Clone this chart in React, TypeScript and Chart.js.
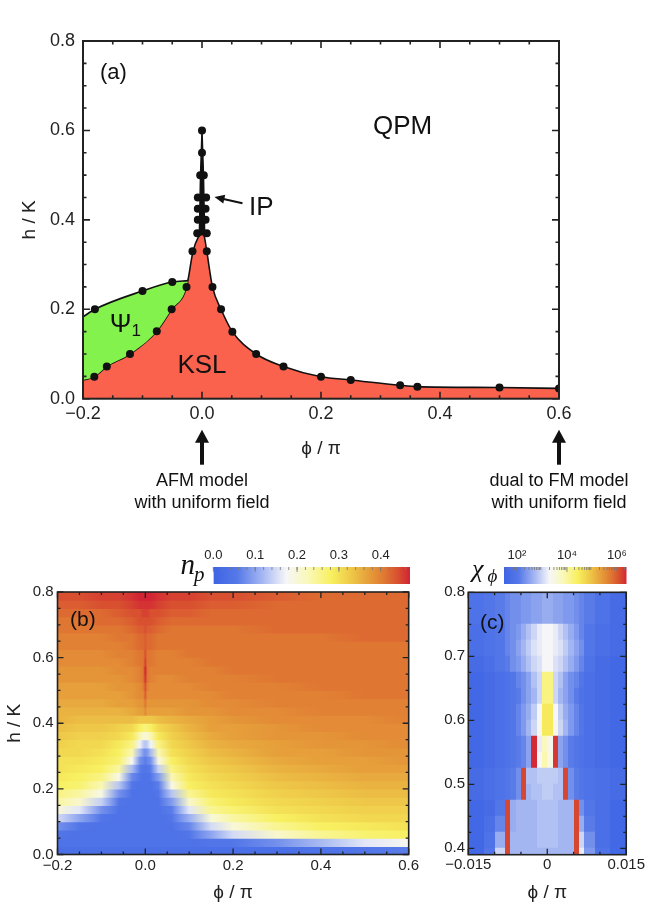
import React, { useEffect, useRef } from 'react';
import { Chart, registerables } from 'chart.js';

Chart.register(...registerables);

const SANS = '"Liberation Sans", Arial, Helvetica, sans-serif';
const SERIF = '"Liberation Serif", "DejaVu Serif", "Times New Roman", serif';

// ---------------- Panel (a): phase diagram ----------------
const PHASE_X_TICKS = [-0.2, 0, 0.2, 0.4, 0.6];
const PHASE_Y_TICKS = [0, 0.2, 0.4, 0.6, 0.8];

// upper boundary of the KSL phase
const KSL_PHI = [-0.2, -0.181, -0.16, -0.121, -0.076, -0.051, -0.026, -0.015, -0.006, 0, 0.004, 0.008, 0.0176, 0.032, 0.051, 0.091, 0.137, 0.2, 0.25, 0.333, 0.362, 0.5, 0.6];
const KSL_H = [0.042, 0.049, 0.072, 0.1, 0.151, 0.2, 0.25, 0.33, 0.362, 0.37, 0.362, 0.33, 0.25, 0.2, 0.15, 0.1, 0.072, 0.049, 0.042, 0.03, 0.027, 0.025, 0.023];

// upper boundary of the Psi_1 phase
const PSI1_PHI = [-0.2, -0.18, -0.1, -0.05, -0.0235];
const PSI1_H = [0.183, 0.2, 0.241, 0.261, 0.264];

// intermediate phase (IP) sliver
const IP_PHI = [-0.0045, -0.0025, 0, 0.0025, 0.0045];
const IP_H = [0.365, 0.5, 0.6, 0.5, 0.365];

// computed transition points
const DOT_PHI = [-0.181, -0.16, -0.121, -0.076, -0.051, -0.026, -0.016,
  -0.18, -0.1, -0.05,
  -0.008, 0.008, -0.007, 0.006, -0.007, 0.006, -0.007, 0.007, -0.003, 0.003, 0, 0,
  0.008, 0.0176, 0.032, 0.051, 0.091, 0.137, 0.2, 0.25, 0.333, 0.362, 0.5, 0.6];
const DOT_H = [0.049, 0.072, 0.1, 0.151, 0.2, 0.25, 0.33,
  0.2, 0.241, 0.261,
  0.37, 0.37, 0.4, 0.4, 0.425, 0.425, 0.45, 0.45, 0.5, 0.5, 0.55, 0.6,
  0.33, 0.25, 0.2, 0.15, 0.1, 0.072, 0.049, 0.042, 0.03, 0.027, 0.025, 0.023];

const MODEL_PHI = [0, 0.6];
const MODEL_TEXT = [['AFM model', 'with uniform field'], ['dual to FM model', 'with uniform field']];

// ---------------- Panel (b): n_p heat map ----------------
const NP_TICKS = [0, 0.1, 0.2, 0.3, 0.4];
const NP_RANGE = [0, 0.47];
const NP_X_TICKS = [-0.2, 0, 0.2, 0.4, 0.6];
const NP_Y_TICKS = [0, 0.2, 0.4, 0.6, 0.8];
const NP_PHI = [-0.2, -0.15, -0.1, -0.06, -0.03, -0.012, -0.005, 0, 0.005, 0.012, 0.03, 0.06, 0.1, 0.15, 0.2, 0.3, 0.4, 0.5, 0.6];
const NP_H = [0.0125, 0.0375, 0.0625, 0.0875, 0.1125, 0.1375, 0.1625, 0.1875, 0.2125, 0.2375, 0.2625, 0.2875, 0.3125, 0.3375, 0.3625, 0.3875,
  0.4125, 0.4375, 0.4625, 0.4875, 0.5125, 0.5375, 0.5625, 0.5875, 0.6125, 0.6375, 0.6625, 0.6875, 0.7125, 0.7375, 0.7625, 0.7875];
const NP_ROWS = [
  [0.03, 0.03, 0.03, 0.03, 0.03, 0.03, 0.03, 0.03, 0.03, 0.03, 0.03, 0.03, 0.03, 0.03, 0.03, 0.03, 0.04, 0.05, 0.06],
  [0.04, 0.04, 0.04, 0.04, 0.04, 0.04, 0.04, 0.04, 0.04, 0.04, 0.04, 0.04, 0.04, 0.05, 0.05, 0.08, 0.12, 0.16, 0.18],
  [0.05, 0.04, 0.04, 0.04, 0.04, 0.04, 0.04, 0.04, 0.04, 0.04, 0.04, 0.04, 0.05, 0.1, 0.15, 0.21, 0.25, 0.27, 0.28],
  [0.08, 0.05, 0.04, 0.04, 0.04, 0.04, 0.04, 0.04, 0.04, 0.04, 0.04, 0.04, 0.07, 0.15, 0.2, 0.25, 0.28, 0.29, 0.3],
  [0.15, 0.1, 0.05, 0.04, 0.04, 0.04, 0.04, 0.04, 0.04, 0.04, 0.04, 0.05, 0.11, 0.2, 0.24, 0.28, 0.3, 0.31, 0.31],
  [0.2, 0.16, 0.08, 0.04, 0.04, 0.04, 0.04, 0.04, 0.04, 0.04, 0.04, 0.06, 0.16, 0.25, 0.27, 0.3, 0.31, 0.32, 0.32],
  [0.24, 0.21, 0.14, 0.05, 0.04, 0.04, 0.04, 0.04, 0.04, 0.04, 0.04, 0.09, 0.21, 0.27, 0.29, 0.31, 0.32, 0.33, 0.33],
  [0.26, 0.24, 0.19, 0.08, 0.04, 0.04, 0.04, 0.04, 0.04, 0.04, 0.05, 0.13, 0.25, 0.29, 0.3, 0.32, 0.33, 0.34, 0.34],
  [0.28, 0.27, 0.23, 0.13, 0.05, 0.04, 0.04, 0.04, 0.04, 0.04, 0.06, 0.19, 0.28, 0.3, 0.31, 0.33, 0.34, 0.35, 0.35],
  [0.29, 0.28, 0.26, 0.19, 0.07, 0.05, 0.04, 0.04, 0.04, 0.05, 0.09, 0.23, 0.29, 0.31, 0.32, 0.34, 0.35, 0.36, 0.36],
  [0.3, 0.29, 0.28, 0.24, 0.12, 0.06, 0.05, 0.05, 0.05, 0.06, 0.14, 0.26, 0.3, 0.32, 0.33, 0.35, 0.36, 0.37, 0.37],
  [0.3, 0.3, 0.29, 0.27, 0.18, 0.08, 0.07, 0.06, 0.07, 0.08, 0.19, 0.28, 0.31, 0.33, 0.34, 0.36, 0.37, 0.37, 0.38],
  [0.31, 0.31, 0.3, 0.28, 0.23, 0.12, 0.09, 0.08, 0.09, 0.12, 0.23, 0.3, 0.32, 0.34, 0.35, 0.37, 0.37, 0.38, 0.38],
  [0.32, 0.31, 0.31, 0.29, 0.26, 0.17, 0.14, 0.13, 0.14, 0.17, 0.26, 0.31, 0.33, 0.35, 0.36, 0.37, 0.38, 0.38, 0.39],
  [0.33, 0.32, 0.32, 0.31, 0.29, 0.23, 0.21, 0.2, 0.21, 0.23, 0.29, 0.32, 0.34, 0.36, 0.37, 0.38, 0.38, 0.39, 0.39],
  [0.34, 0.33, 0.33, 0.32, 0.31, 0.28, 0.27, 0.26, 0.27, 0.28, 0.31, 0.33, 0.35, 0.37, 0.37, 0.38, 0.39, 0.39, 0.39],
  [0.35, 0.34, 0.34, 0.34, 0.34, 0.33, 0.33, 0.33, 0.33, 0.33, 0.34, 0.35, 0.36, 0.37, 0.38, 0.39, 0.39, 0.39, 0.4],
  [0.35, 0.35, 0.35, 0.35, 0.36, 0.37, 0.37, 0.39, 0.37, 0.37, 0.37, 0.37, 0.38, 0.38, 0.39, 0.39, 0.4, 0.4, 0.4],
  [0.36, 0.36, 0.36, 0.37, 0.37, 0.38, 0.38, 0.41, 0.38, 0.38, 0.38, 0.38, 0.38, 0.39, 0.39, 0.4, 0.4, 0.4, 0.4],
  [0.37, 0.37, 0.37, 0.37, 0.38, 0.39, 0.39, 0.43, 0.39, 0.39, 0.39, 0.39, 0.39, 0.39, 0.4, 0.4, 0.4, 0.41, 0.41],
  [0.37, 0.37, 0.37, 0.38, 0.38, 0.39, 0.4, 0.44, 0.4, 0.39, 0.39, 0.39, 0.39, 0.4, 0.4, 0.4, 0.41, 0.41, 0.41],
  [0.38, 0.38, 0.38, 0.38, 0.39, 0.4, 0.41, 0.46, 0.41, 0.4, 0.39, 0.39, 0.4, 0.4, 0.4, 0.41, 0.41, 0.41, 0.41],
  [0.38, 0.38, 0.38, 0.39, 0.39, 0.4, 0.41, 0.47, 0.41, 0.4, 0.4, 0.4, 0.4, 0.4, 0.41, 0.41, 0.41, 0.41, 0.41],
  [0.39, 0.39, 0.39, 0.39, 0.4, 0.41, 0.41, 0.45, 0.41, 0.41, 0.4, 0.4, 0.4, 0.41, 0.41, 0.41, 0.41, 0.41, 0.41],
  [0.39, 0.39, 0.39, 0.4, 0.4, 0.41, 0.41, 0.44, 0.41, 0.41, 0.4, 0.4, 0.41, 0.41, 0.41, 0.41, 0.41, 0.41, 0.41],
  [0.4, 0.4, 0.4, 0.4, 0.41, 0.42, 0.42, 0.43, 0.42, 0.42, 0.41, 0.41, 0.41, 0.41, 0.41, 0.41, 0.41, 0.41, 0.41],
  [0.4, 0.4, 0.4, 0.41, 0.41, 0.42, 0.42, 0.43, 0.42, 0.42, 0.41, 0.41, 0.41, 0.41, 0.41, 0.41, 0.41, 0.42, 0.42],
  [0.41, 0.41, 0.41, 0.41, 0.42, 0.43, 0.43, 0.44, 0.43, 0.43, 0.42, 0.41, 0.41, 0.41, 0.41, 0.42, 0.42, 0.42, 0.42],
  [0.41, 0.41, 0.42, 0.42, 0.43, 0.44, 0.44, 0.44, 0.44, 0.44, 0.43, 0.42, 0.42, 0.42, 0.42, 0.42, 0.42, 0.42, 0.42],
  [0.42, 0.42, 0.42, 0.43, 0.44, 0.44, 0.45, 0.45, 0.45, 0.44, 0.44, 0.43, 0.43, 0.42, 0.42, 0.42, 0.42, 0.42, 0.42],
  [0.43, 0.43, 0.44, 0.44, 0.45, 0.46, 0.46, 0.46, 0.46, 0.46, 0.45, 0.44, 0.44, 0.43, 0.43, 0.42, 0.42, 0.42, 0.42],
  [0.44, 0.44, 0.45, 0.45, 0.46, 0.47, 0.47, 0.47, 0.47, 0.47, 0.46, 0.45, 0.45, 0.44, 0.44, 0.43, 0.42, 0.42, 0.42],
];

// ---------------- Panel (c): chi_phi heat map (log10) ----------------
const CHI_TICKS = [2, 4, 6];
const CHI_RANGE = [1.48, 6.39];
const CHI_X_TICKS = [-0.015, 0, 0.015];
const CHI_Y_TICKS = [0.4, 0.5, 0.6, 0.7, 0.8];
const CHI_EDGES = [-0.015, -0.012, -0.01, -0.008, -0.007, -0.006, -0.005, -0.004, -0.003, -0.002, -0.001, 0, 0.001, 0.002, 0.003, 0.004, 0.005, 0.006, 0.007, 0.009, 0.012, 0.015];
const CHI_H = [0.7875, 0.7625, 0.7375, 0.7125, 0.6875, 0.6625, 0.6375, 0.6125, 0.5875, 0.5625, 0.5375, 0.5125, 0.4875, 0.4625, 0.4375, 0.4125, 0.3875];
const CHI_LOG10 = [
  [1.9, 2.0, 2.1, 2.2, 2.3, 2.3, 2.4, 2.4, 2.5, 2.5, 2.6, 2.6, 2.5, 2.5, 2.4, 2.4, 2.3, 2.2, 2.1, 1.9, 1.7],
  [1.9, 2.0, 2.1, 2.2, 2.3, 2.3, 2.4, 2.4, 2.5, 2.5, 2.6, 2.6, 2.5, 2.5, 2.4, 2.4, 2.3, 2.2, 2.1, 1.9, 1.7],
  [1.8, 1.9, 2.0, 2.2, 2.3, 2.4, 2.6, 2.8, 3.0, 3.2, 3.3, 3.3, 3.2, 3.0, 2.8, 2.6, 2.4, 2.2, 2.0, 1.8, 1.7],
  [1.8, 1.9, 2.0, 2.2, 2.3, 2.5, 2.7, 2.9, 3.1, 3.2, 3.3, 3.3, 3.2, 3.1, 2.9, 2.7, 2.5, 2.3, 2.0, 1.8, 1.7],
  [1.7, 1.8, 2.0, 2.1, 2.3, 2.4, 2.6, 2.8, 3.0, 3.1, 3.3, 3.3, 3.1, 3.0, 2.8, 2.6, 2.4, 2.2, 1.9, 1.7, 1.6],
  [1.6, 1.7, 1.8, 1.9, 2.0, 2.2, 2.3, 2.5, 2.8, 3.0, 4.2, 4.2, 3.0, 2.8, 2.5, 2.3, 2.2, 2.0, 1.8, 1.7, 1.6],
  [1.6, 1.7, 1.8, 1.9, 2.0, 2.1, 2.3, 2.5, 2.7, 3.0, 4.2, 4.2, 3.0, 2.7, 2.5, 2.3, 2.1, 1.9, 1.8, 1.7, 1.6],
  [1.6, 1.7, 1.8, 1.9, 2.0, 2.2, 2.4, 2.6, 2.9, 3.3, 4.5, 4.5, 3.3, 2.9, 2.6, 2.4, 2.2, 2.0, 1.8, 1.7, 1.6],
  [1.6, 1.7, 1.8, 1.9, 2.0, 2.2, 2.4, 2.7, 3.0, 3.4, 4.5, 4.5, 3.4, 3.0, 2.7, 2.4, 2.2, 2.0, 1.8, 1.7, 1.6],
  [1.6, 1.7, 1.8, 1.9, 2.0, 2.1, 2.2, 2.5, 6.35, 3.2, 3.8, 3.4, 6.25, 2.5, 2.3, 2.1, 2.0, 1.9, 1.8, 1.7, 1.6],
  [1.6, 1.7, 1.8, 1.9, 2.0, 2.1, 2.2, 2.5, 6.35, 3.3, 3.9, 3.5, 6.25, 2.5, 2.3, 2.1, 2.0, 1.9, 1.8, 1.7, 1.6],
  [1.7, 1.8, 1.9, 2.0, 2.1, 2.3, 6.15, 2.8, 2.8, 2.9, 2.9, 2.9, 2.9, 2.8, 6.15, 2.3, 2.1, 2.0, 1.9, 1.8, 1.7],
  [1.7, 1.8, 1.9, 2.0, 2.1, 2.3, 6.15, 2.7, 2.8, 2.8, 2.9, 2.9, 2.8, 2.8, 6.15, 2.3, 2.1, 2.0, 1.9, 1.8, 1.7],
  [1.6, 1.7, 2.0, 6.15, 2.6, 2.7, 2.7, 2.7, 2.7, 2.8, 2.8, 2.8, 2.8, 2.7, 2.7, 2.7, 6.15, 2.3, 2.0, 1.8, 1.6],
  [1.6, 1.8, 2.2, 6.15, 2.6, 2.7, 2.7, 2.7, 2.7, 2.8, 2.8, 2.8, 2.8, 2.7, 2.7, 2.7, 6.15, 2.6, 2.1, 1.8, 1.6],
  [1.6, 1.9, 2.6, 6.15, 2.7, 2.7, 2.7, 2.7, 2.7, 2.8, 2.8, 2.8, 2.8, 2.7, 2.7, 2.7, 6.15, 3.0, 2.3, 1.8, 1.6],
  [1.6, 2.0, 3.0, 6.15, 2.7, 2.7, 2.7, 2.7, 2.7, 2.7, 2.7, 2.7, 2.7, 2.7, 2.7, 2.7, 6.15, 3.2, 2.4, 1.9, 1.6],
];

// ---------------- colour map (style) ----------------
const CMAP: number[][] = [
  [0.0, 62, 100, 228],
  [0.12, 85, 120, 232],
  [0.25, 165, 183, 242],
  [0.37, 246, 246, 248],
  [0.48, 250, 248, 185],
  [0.6, 248, 240, 95],
  [0.7, 238, 200, 72],
  [0.79, 230, 158, 58],
  [0.87, 223, 120, 50],
  [0.94, 216, 78, 48],
  [1.0, 210, 35, 52],
];

function cmap(t: number): string {
  const v = Math.max(0, Math.min(1, t));
  for (let i = 1; i < CMAP.length; i++) {
    if (v <= CMAP[i][0]) {
      const a = CMAP[i - 1], b = CMAP[i];
      const f = (v - a[0]) / (b[0] - a[0]);
      const r = Math.round(a[1] + f * (b[1] - a[1]));
      const g = Math.round(a[2] + f * (b[2] - a[2]));
      const bl = Math.round(a[3] + f * (b[3] - a[3]));
      return `rgb(${r},${g},${bl})`;
    }
  }
  const l = CMAP[CMAP.length - 1];
  return `rgb(${l[1]},${l[2]},${l[3]})`;
}

function stepsBetween(min: number, max: number, step: number): number[] {
  const out: number[] = [];
  const k0 = Math.ceil(min / step - 1e-6);
  const k1 = Math.floor(max / step + 1e-6);
  for (let k = k0; k <= k1; k++) out.push(k * step);
  return out;
}

// frame + inward ticks on all four sides
const frameTicks = {
  id: 'frameTicks',
  afterDatasetsDraw(chart: any, _args: any, o: any) {
    if (!o || !o.on) return;
    const { ctx, chartArea: a } = chart;
    const xs = chart.scales.x, ys = chart.scales.y;
    ctx.save();
    ctx.strokeStyle = o.color;
    ctx.lineWidth = o.tickWidth;
    ctx.beginPath();
    const xt = (v: number, len: number) => {
      const p = xs.getPixelForValue(v);
      ctx.moveTo(p, a.bottom); ctx.lineTo(p, a.bottom - len);
      ctx.moveTo(p, a.top); ctx.lineTo(p, a.top + len);
    };
    const yt = (v: number, len: number) => {
      const p = ys.getPixelForValue(v);
      ctx.moveTo(a.left, p); ctx.lineTo(a.left + len, p);
      ctx.moveTo(a.right, p); ctx.lineTo(a.right - len, p);
    };
    stepsBetween(xs.min, xs.max, o.xMinor).forEach((v) => xt(v, o.minorLen));
    stepsBetween(ys.min, ys.max, o.yMinor).forEach((v) => yt(v, o.minorLen));
    xs.ticks.forEach((t: any) => xt(t.value, o.majorLen));
    ys.ticks.forEach((t: any) => yt(t.value, o.majorLen));
    ctx.stroke();
    ctx.lineWidth = o.frameWidth;
    ctx.strokeRect(a.left, a.top, a.right - a.left, a.bottom - a.top);
    ctx.restore();
  },
};

// panel annotations
const panelText = {
  id: 'panelText',
  afterDraw(chart: any, _args: any, o: any) {
    if (!o || !o.items) return;
    const { ctx } = chart;
    const xs = chart.scales.x, ys = chart.scales.y;
    ctx.save();
    ctx.fillStyle = '#111';
    ctx.strokeStyle = '#111';
    o.items.forEach((it: any) => {
      ctx.font = it.font;
      ctx.textAlign = it.align || 'center';
      ctx.textBaseline = it.baseline || 'middle';
      let x: number, y: number;
      if (it.area) {
        x = chart.chartArea[it.area[0]] + it.dx;
        y = chart.chartArea[it.area[1]] + it.dy;
      } else {
        x = xs.getPixelForValue(it.phi) + (it.dx || 0);
        y = ys.getPixelForValue(it.h) + (it.dy || 0);
      }
      ctx.fillText(it.text, x, y);
    });
    if (o.arrow) {
      const ar = o.arrow;
      const x0 = xs.getPixelForValue(ar.from[0]), y0 = ys.getPixelForValue(ar.from[1]);
      const x1 = xs.getPixelForValue(ar.to[0]), y1 = ys.getPixelForValue(ar.to[1]);
      const ang = Math.atan2(y1 - y0, x1 - x0);
      const hl = 10, hw = 4.5;
      ctx.lineWidth = 2;
      ctx.beginPath();
      ctx.moveTo(x0, y0);
      ctx.lineTo(x1 - Math.cos(ang) * hl * 0.8, y1 - Math.sin(ang) * hl * 0.8);
      ctx.stroke();
      ctx.beginPath();
      ctx.moveTo(x1, y1);
      ctx.lineTo(x1 - Math.cos(ang) * hl - Math.sin(ang) * hw, y1 - Math.sin(ang) * hl + Math.cos(ang) * hw);
      ctx.lineTo(x1 - Math.cos(ang) * hl + Math.sin(ang) * hw, y1 - Math.sin(ang) * hl - Math.cos(ang) * hw);
      ctx.closePath();
      ctx.fill();
    }
    if (o.models) {
      const b = chart.chartArea.bottom;
      MODEL_PHI.forEach((p, i) => {
        const x = xs.getPixelForValue(p);
        ctx.beginPath();
        ctx.moveTo(x, b + 31);
        ctx.lineTo(x - 7, b + 44);
        ctx.lineTo(x + 7, b + 44);
        ctx.closePath();
        ctx.fill();
        ctx.fillRect(x - 2, b + 42, 4, 24);
        ctx.font = `18px ${SANS}`;
        ctx.textAlign = 'center';
        ctx.textBaseline = 'middle';
        MODEL_TEXT[i].forEach((line, k) => ctx.fillText(line, x, b + 82 + k * 22));
      });
    }
    if (o.psi) {
      const x = xs.getPixelForValue(o.psi[0]), y = ys.getPixelForValue(o.psi[1]);
      ctx.font = `26px ${SANS}`;
      ctx.textAlign = 'left';
      ctx.textBaseline = 'alphabetic';
      ctx.fillText('Ψ', x, y + 9);
      const w = ctx.measureText('Ψ').width;
      ctx.font = `17px ${SANS}`;
      ctx.fillText('1', x + w, y + 13);
    }
    ctx.restore();
  },
};

// colourbar symbol labels
const cbLabel = {
  id: 'cbLabel',
  afterDraw(chart: any, _args: any, o: any) {
    if (!o || !o.main) return;
    const { ctx, chartArea: a } = chart;
    ctx.save();
    ctx.fillStyle = '#111';
    ctx.textAlign = 'left';
    ctx.textBaseline = 'alphabetic';
    ctx.font = `italic ${o.mainSize}px ${SERIF}`;
    ctx.fillText(o.main, a.left + o.mainDx, a.bottom + o.mainDy);
    ctx.font = `italic ${o.subSize}px ${SERIF}`;
    ctx.fillText(o.sub, a.left + o.subDx, a.bottom + o.subDy);
    // light tick marks along the top edge
    const xs = chart.scales.x;
    ctx.strokeStyle = 'rgba(120,120,120,0.8)';
    ctx.lineWidth = 1;
    ctx.beginPath();
    o.minor.forEach((v: number) => {
      const p = xs.getPixelForValue(v);
      ctx.moveTo(p, a.top); ctx.lineTo(p, a.top + 3);
    });
    xs.ticks.forEach((t: any) => {
      const p = xs.getPixelForValue(t.value);
      ctx.moveTo(p, a.top); ctx.lineTo(p, a.top + 5);
    });
    ctx.stroke();
    ctx.restore();
  },
};

const fmtSigned = (d: number) => (v: number) => (v < -1e-9 ? '−' : '') + Math.abs(v).toFixed(d);

function baseOptions(padding: any) {
  return {
    responsive: false,
    animation: false,
    devicePixelRatio: 1,
    events: [],
    layout: { padding },
    plugins: { legend: { display: false }, tooltip: { enabled: false } },
  } as any;
}

function axis(opts: any) {
  const { min, max, ticks, fmt, size, fontSize, pad, title, titleSize, titlePad, position } = opts;
  return {
    type: 'linear',
    position,
    min,
    max,
    offset: false,
    grid: { display: false, drawTicks: false },
    border: { display: false },
    afterBuildTicks: (s: any) => { s.ticks = ticks.map((v: number) => ({ value: v })); },
    afterFit: (s: any) => {
      if (position === 'left') s.width = size; else s.height = size;
    },
    ticks: {
      autoSkip: false,
      maxRotation: 0,
      minRotation: 0,
      padding: pad,
      color: '#222',
      font: { size: fontSize, family: SANS },
      callback: fmt,
    },
    title: title
      ? { display: true, text: title, color: '#222', font: { size: titleSize, family: SANS }, padding: titlePad }
      : { display: false },
  } as any;
}

function rowGradient(chart: any, phis: number[], vals: number[], toT: (v: number) => number, hard: boolean) {
  const xs = chart.scales.x;
  const ctx = chart.ctx;
  const x0 = xs.getPixelForValue(phis[0]);
  const x1 = xs.getPixelForValue(phis[phis.length - 1]);
  const g = ctx.createLinearGradient(x0, 0, x1, 0);
  const pos = (p: number) => Math.max(0, Math.min(1, (xs.getPixelForValue(p) - x0) / (x1 - x0)));
  if (hard) {
    vals.forEach((v, j) => {
      const c = cmap(toT(v));
      g.addColorStop(pos(phis[j]), c);
      g.addColorStop(pos(phis[j + 1]), c);
    });
  } else {
    phis.forEach((p, j) => g.addColorStop(pos(p), cmap(toT(vals[j]))));
  }
  return g;
}

export default function App() {
  const refA = useRef<HTMLCanvasElement>(null);
  const refB = useRef<HTMLCanvasElement>(null);
  const refC = useRef<HTMLCanvasElement>(null);
  const refCbB = useRef<HTMLCanvasElement>(null);
  const refCbC = useRef<HTMLCanvasElement>(null);

  useEffect(() => {
    Chart.defaults.font.family = SANS;
    const charts: Chart[] = [];
    const KSL_COLOR = 'rgb(250,98,78)';
    const PSI_COLOR = 'rgb(132,242,76)';

    // ---------- (a) ----------
    charts.push(new Chart(refA.current as HTMLCanvasElement, {
      type: 'line',
      data: {
        datasets: [
          {
            data: KSL_PHI.map((p, i) => ({ x: p, y: KSL_H[i] })),
            fill: 'origin', backgroundColor: KSL_COLOR, borderColor: '#111', borderWidth: 1.6,
            pointRadius: 0, cubicInterpolationMode: 'monotone', order: 5,
          },
          {
            data: PSI1_PHI.map((p, i) => ({ x: p, y: PSI1_H[i] })),
            fill: '-1', backgroundColor: PSI_COLOR, borderColor: '#111', borderWidth: 1.6,
            pointRadius: 0, cubicInterpolationMode: 'monotone', order: 4,
          },
          {
            data: IP_PHI.map((p, i) => ({ x: p, y: IP_H[i] })),
            fill: 'shape', backgroundColor: '#111', borderColor: '#111', borderWidth: 1.5,
            pointRadius: 0, tension: 0, order: 3,
          },
          {
            data: DOT_PHI.map((p, i) => ({ x: p, y: DOT_H[i] })),
            showLine: false, pointRadius: 4, pointBackgroundColor: '#111', pointBorderWidth: 0,
            backgroundColor: '#111', borderColor: '#111', fill: false, order: 1, clip: 0,
          },
        ],
      } as any,
      options: {
        ...baseOptions({ left: 0, top: 41, right: 87, bottom: 443.6 }),
        scales: {
          x: axis({ position: 'bottom', min: -0.2, max: 0.6, ticks: PHASE_X_TICKS, fmt: fmtSigned(1), size: 61.7, fontSize: 18, pad: 5, title: 'ϕ / π', titleSize: 19, titlePad: { top: 0, bottom: 0 } }),
          y: axis({ position: 'left', min: 0, max: 0.8, ticks: PHASE_Y_TICKS, fmt: fmtSigned(1), size: 83, fontSize: 18, pad: 8, title: 'h / K', titleSize: 19, titlePad: { top: 18.6, bottom: 0 } }),
        },
        plugins: {
          legend: { display: false }, tooltip: { enabled: false },
          frameTicks: { on: true, color: '#222', tickWidth: 1.6, frameWidth: 2, minorLen: 3.5, majorLen: 7, xMinor: 0.05, yMinor: 0.05 },
          panelText: {
            items: [
              { text: '(a)', font: `22px ${SANS}`, align: 'left', area: ['left', 'top'], dx: 17, dy: 32 },
              { text: 'QPM', font: `26px ${SANS}`, phi: 0.337, h: 0.607 },
              { text: 'KSL', font: `26px ${SANS}`, phi: 0.0, h: 0.073 },
              { text: 'IP', font: `26px ${SANS}`, align: 'left', phi: 0.079, h: 0.426 },
            ],
            arrow: { from: [0.068, 0.437], to: [0.021, 0.451] },
            models: true,
            psi: [-0.155, 0.169],
          },
        },
      } as any,
      plugins: [frameTicks, panelText],
    }));

    // ---------- (b) ----------
    charts.push(new Chart(refB.current as HTMLCanvasElement, {
      type: 'bar',
      data: {
        datasets: [{
          data: NP_H.map((h) => ({ y: h, x: [NP_PHI[0], NP_PHI[NP_PHI.length - 1]] })),
          backgroundColor: (c: any) => {
            if (c.type !== 'data' || !c.chart.chartArea) return 'rgba(0,0,0,0)';
            return rowGradient(c.chart, NP_PHI, NP_ROWS[c.dataIndex], (v) => (v - NP_RANGE[0]) / (NP_RANGE[1] - NP_RANGE[0]), false);
          },
          borderWidth: 0, barPercentage: 1, categoryPercentage: 1, inflateAmount: 0.6,
        }],
      } as any,
      options: {
        ...baseOptions({ left: 0, top: 592, right: 237.3, bottom: 0 }),
        indexAxis: 'y',
        scales: {
          x: axis({ position: 'bottom', min: -0.2, max: 0.6, ticks: NP_X_TICKS, fmt: fmtSigned(1), size: 49.5, fontSize: 15, pad: 2.5, title: 'ϕ / π', titleSize: 19, titlePad: { top: 0, bottom: 0 } }),
          y: axis({ position: 'left', min: 0, max: 0.8, ticks: NP_Y_TICKS, fmt: fmtSigned(1), size: 57.5, fontSize: 15, pad: 3.8, title: 'h / K', titleSize: 19, titlePad: { top: 3.6, bottom: 0 } }),
        },
        plugins: {
          legend: { display: false }, tooltip: { enabled: false },
          frameTicks: { on: true, color: '#222', tickWidth: 1.3, frameWidth: 1.6, minorLen: 3, majorLen: 6, xMinor: 0.05, yMinor: 0.05 },
          panelText: { items: [{ text: '(b)', font: `21px ${SANS}`, align: 'left', area: ['left', 'top'], dx: 12.5, dy: 28 }] },
        },
      } as any,
      plugins: [frameTicks, panelText],
    }));

    // ---------- (c) ----------
    charts.push(new Chart(refC.current as HTMLCanvasElement, {
      type: 'bar',
      data: {
        datasets: [{
          data: CHI_H.map((h) => ({ y: h, x: [CHI_EDGES[0], CHI_EDGES[CHI_EDGES.length - 1]] })),
          backgroundColor: (c: any) => {
            if (c.type !== 'data' || !c.chart.chartArea) return 'rgba(0,0,0,0)';
            return rowGradient(c.chart, CHI_EDGES, CHI_LOG10[c.dataIndex], (v) => (v - CHI_RANGE[0]) / (CHI_RANGE[1] - CHI_RANGE[0]), true);
          },
          borderWidth: 0, barPercentage: 1, categoryPercentage: 1, inflateAmount: 0.6,
        }],
      } as any,
      options: {
        ...baseOptions({ left: 420, top: 592.3, right: 19.3, bottom: 0 }),
        indexAxis: 'y',
        scales: {
          x: axis({ position: 'bottom', min: -0.015, max: 0.015, ticks: CHI_X_TICKS, fmt: (v: number) => (Math.abs(v) < 1e-9 ? '0' : fmtSigned(3)(v)), size: 49.3, fontSize: 15, pad: 1, title: 'ϕ / π', titleSize: 19, titlePad: { top: 0, bottom: 0 } }),
          y: axis({ position: 'left', min: 0.39, max: 0.8, ticks: CHI_Y_TICKS, fmt: fmtSigned(1), size: 48.3, fontSize: 15, pad: 3.3 }),
        },
        plugins: {
          legend: { display: false }, tooltip: { enabled: false },
          frameTicks: { on: true, color: '#222', tickWidth: 1.3, frameWidth: 1.6, minorLen: 3, majorLen: 6, xMinor: 0.005, yMinor: 0.025 },
          panelText: { items: [{ text: '(c)', font: `21px ${SANS}`, align: 'left', area: ['left', 'top'], dx: 11.7, dy: 31 }] },
        },
      } as any,
      plugins: [frameTicks, panelText],
    }));

    // ---------- colour bars ----------
    const colourBar = (canvas: HTMLCanvasElement, range: number[], ticks: number[], fmt: any, padding: any, lbl: any) => new Chart(canvas, {
      type: 'bar',
      data: {
        labels: [''],
        datasets: [{
          data: [[range[0], range[1]]],
          backgroundColor: (c: any) => {
            if (c.type !== 'data' || !c.chart.chartArea) return 'rgba(0,0,0,0)';
            const xs = c.chart.scales.x;
            const x0 = xs.getPixelForValue(range[0]), x1 = xs.getPixelForValue(range[1]);
            const g = c.chart.ctx.createLinearGradient(x0, 0, x1, 0);
            CMAP.forEach((s) => g.addColorStop(s[0], cmap(s[0])));
            return g;
          },
          borderWidth: 0, barPercentage: 1, categoryPercentage: 1, inflateAmount: 0,
        }],
      } as any,
      options: {
        ...baseOptions(padding),
        indexAxis: 'y',
        scales: {
          x: axis({ position: 'top', min: range[0], max: range[1], ticks, fmt, size: 27, fontSize: 13, pad: 4.2 }),
          y: { type: 'category', display: false, offset: true },
        },
        plugins: { legend: { display: false }, tooltip: { enabled: false }, cbLabel: lbl },
      } as any,
      plugins: [cbLabel],
    });

    const npMinor: number[] = stepsBetween(0, 0.46, 0.02);
    charts.push(colourBar(refCbB.current as HTMLCanvasElement, NP_RANGE, NP_TICKS, (v: number) => v.toFixed(1),
      { left: 213.4, right: 236, top: 540, bottom: 320 },
      { main: 'n', sub: 'p', mainSize: 29, subSize: 21, mainDx: -33, mainDy: -10, subDx: -19.5, subDy: -3, minor: npMinor }));

    const sup: Record<string, string> = { '2': '²', '4': '⁴', '6': '⁶' };
    const chiMinor: number[] = [];
    for (let d = 1; d <= 6; d++) for (let m = 2; m <= 9; m++) {
      const lv = d + Math.log10(m);
      if (lv > CHI_RANGE[0] && lv < CHI_RANGE[1]) chiMinor.push(lv);
    }
    charts.push(colourBar(refCbC.current as HTMLCanvasElement, CHI_RANGE, CHI_TICKS, (v: number) => '10' + (sup[String(v)] || ''),
      { left: 504, right: 19.3, top: 540, bottom: 320 },
      { main: 'χ', sub: 'ϕ', mainSize: 26, subSize: 19, mainDx: -32, mainDy: -7, subDx: -16.5, subDy: -2, minor: chiMinor }));

    return () => { charts.forEach((c) => c.destroy()); };
  }, []);

  const cv: React.CSSProperties = { position: 'absolute', left: 0, top: 0, width: 646, height: 904 };
  return (
    <div style={{ position: 'absolute', left: 0, top: 0, width: 646, height: 904, background: '#fff', overflow: 'hidden' }}>
      <canvas ref={refB} width={646} height={904} style={cv} />
      <canvas ref={refC} width={646} height={904} style={cv} />
      <canvas ref={refCbB} width={646} height={904} style={cv} />
      <canvas ref={refCbC} width={646} height={904} style={cv} />
      <canvas ref={refA} width={646} height={904} style={cv} />
    </div>
  );
}
